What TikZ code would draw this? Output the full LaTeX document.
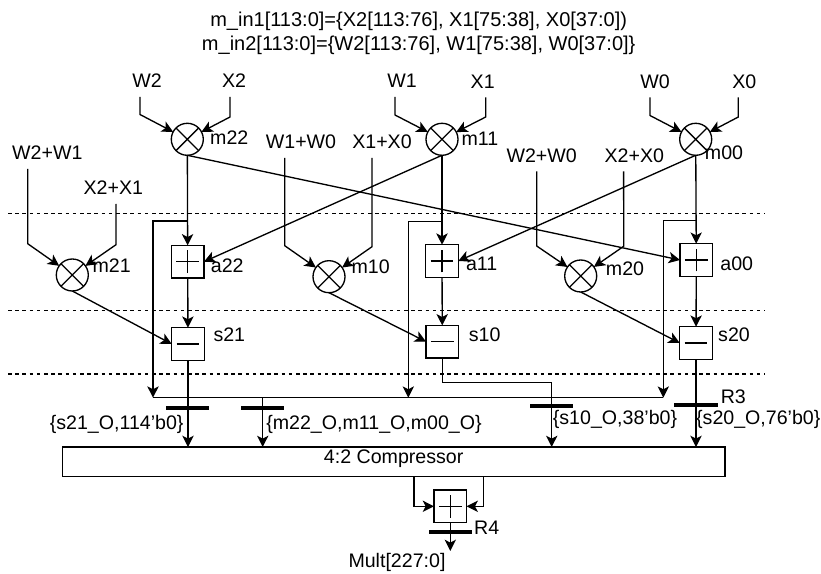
\documentclass[tikz,border=0pt]{standalone}
\usepackage{fontspec}
\setmainfont{Liberation Sans}
\usetikzlibrary{arrows.meta}
\tikzset{
  x=0.75pt,y=-0.75pt,
  every node/.style={inner sep=0pt,outer sep=0pt,font=\fontsize{14.7}{16}\selectfont},
  wire/.style={line width=1pt,line join=miter},
  arr/.style={wire,-{Stealth[length=8.5pt,width=8.5pt,inset=2.2pt]}},
  dashrow/.style={line width=1pt,dash pattern=on 2.7pt off 2.7pt},
  mulop/.style={draw,circle,line width=1pt,minimum size=24pt,
    path picture={\draw[line width=1pt] (path picture bounding box.south west)--(path picture bounding box.north east)
      (path picture bounding box.north west)--(path picture bounding box.south east);}},
  addop/.style={draw,line width=1pt,minimum size=24.4pt,
    path picture={\draw[line width=1pt] ([xshift=-8.5pt]path picture bounding box.center)--([xshift=8.5pt]path picture bounding box.center)
      ([yshift=-8.5pt]path picture bounding box.center)--([yshift=8.5pt]path picture bounding box.center);}},
  subop/.style={draw,line width=1pt,minimum size=24.4pt,
    path picture={\draw[line width=1pt] ([xshift=-8.5pt]path picture bounding box.center)--([xshift=8.5pt]path picture bounding box.center);}},
  regbar/.style={fill=black,minimum width=32.5pt,minimum height=3.2pt},
  inlabel/.style={minimum height=24pt},
  toptxt/.style={font=\fontsize{15}{17}\selectfont},
}
\begin{document}
\begin{tikzpicture}
\useasboundingbox (0,0) rectangle (821,574);
% titles
\node[toptxt] (title1) at (418.7,21.5) {m\_in1[113:0]=\{X2[113:76], X1[75:38], X0[37:0])};
\node[toptxt] (title2) at (418.7,45) {m\_in2[113:0]=\{W2[113:76], W1[75:38], W0[37:0]\}};
% pipeline separators
\coordinate (d1l) at (8,213.3); \coordinate (d1r) at (765,213.3);
\coordinate (d2l) at (8,310.3); \coordinate (d2r) at (765,310.3);
\coordinate (d3l) at (8,374);   \coordinate (d3r) at (765,374);
\draw[dashrow] (d1l)--(d1r);
\draw[dashrow] (d2l)--(d2r);
\draw[dashrow] (d3l)--(d3r);
% operators
\node[mulop] (m22) at (187.3,139.3) {};
\node[mulop] (m11) at (442,139.3) {};
\node[mulop] (m00) at (695.7,139.3) {};
\node[mulop] (m21) at (72.3,275) {};
\node[mulop] (m10) at (329,276.7) {};
\node[mulop] (m20) at (580.7,276) {};
\node[addop] (a22) at (187.7,261.7) {};
\node[addop] (a11) at (442,261) {};
\node[addop] (a00) at (696.3,260) {};
\node[subop] (s21) at (188,344) {};
\node[subop] (s10) at (442.3,341.7) {};
\node[subop] (s20) at (696,343) {};
\node[addop] (fa) at (450.3,506.3) {};
\node[draw,line width=1pt,minimum width=496.7pt,minimum height=22pt] (comp) at (393.7,461.7) {};
\node (complab) at (393.7,458.7) {4:2 Compressor};
% registers
\node[regbar] (rs21) at (187.7,407.7) {};
\node[regbar] (rm) at (262.7,407.7) {};
\node[regbar] (rs10) at (551.7,406) {};
\node[regbar] (r3) at (696,405) {};
\node[regbar] (r4) at (450.3,532.3) {};
% input labels
\node[inlabel] (lw2) at (147,81) {W2};
\node[inlabel] (lx2) at (234,81) {X2};
\node[inlabel] (lw1) at (402,81) {W1};
\node[inlabel] (lx1) at (482.7,81.5) {X1};
\node[inlabel] (lw0) at (655,81.5) {W0};
\node[inlabel] (lx0) at (744.3,81.5) {X0};
\node[inlabel] (lw21) at (47.3,153) {W2+W1};
\node[inlabel] (lx21) at (113.3,188) {X2+X1};
\node[inlabel] (lw10) at (301,142) {W1+W0};
\node[inlabel] (lx10) at (382,142) {X1+X0};
\node[inlabel] (lw20) at (541.7,155.5) {W2+W0};
\node[inlabel] (lx20) at (634.3,155.5) {X2+X0};
% operator labels
\node (tm22) at (229.3,137.7) {m22};
\node (tm11) at (480,139) {m11};
\node (tm00) at (724,152.7) {m00};
\node (tm21) at (111.7,265.7) {m21};
\node (ta22) at (227.3,265.7) {a22};
\node (tm10) at (370.7,266.7) {m10};
\node (ta11) at (481.7,264) {a11};
\node (tm20) at (625,269) {m20};
\node (ta00) at (736.7,263.3) {a00};
\node (ts21) at (229.3,335) {s21};
\node (ts10) at (484.7,335) {s10};
\node (ts20) at (734,335) {s20};
\node (tr3) at (733.3,396.7) {R3};
\node (tr4) at (486.7,527.3) {R4};
\node (bs21) at (116.7,424.8) {\{s21\_O,114'b0\}};
\node (bm) at (374,424.8) {\{m22\_O,m11\_O,m00\_O\}};
\node (bs10) at (615,419.5) {\{s10\_O,38'b0\}};
\node (bs20) at (758.3,419.5) {\{s20\_O,76'b0\}};
\node (mult) at (397,562) {Mult[227:0]};
% multiplier inputs
\draw[arr] ([xshift=-5.25pt]lw2.south) -- ++(0,17.5) -- (m22);
\draw[arr] ([xshift=-3pt]lx2.south) -- ++(0,20) -- (m22);
\draw[arr] ([xshift=-5.25pt]lw1.south) -- ++(0,18) -- (m11);
\draw[arr] ([xshift=2.25pt]lx1.south) -- ++(0,19.5) -- (m11);
\draw[arr] ([xshift=-3.75pt]lw0.south) -- ++(0,18) -- (m00);
\draw[arr] ([xshift=-4.5pt]lx0.south) -- ++(0,19.5) -- (m00);
\draw[arr] ([xshift=-14.7pt]lw21.south) -- (27.7,243.7) -- (m21);
\draw[arr] ([xshift=2pt]lx21.south) -- (116,244.7) -- (m21);
\draw[arr] ([xshift=-12.2pt]lw10.south) -- (284.7,245.7) -- (m10);
\draw[arr] ([xshift=-7.5pt]lx10.south) -- (372,246.7) -- (m10);
\draw[arr] ([xshift=-3.75pt]lw20.south) -- (536.7,246) -- (m20);
\draw[arr] ([xshift=-8pt]lx20.south) -- (623.7,246.3) -- (m20);
% multiplier to adder
\draw[arr] (m22) -- (a22);
\draw[arr] (m11) -- (a11);
\draw[arr] (m00) -- (a00);
\draw[arr] (m22.south) -- (a00.west);
\draw[arr] (m11.south) -- (a22.east);
\draw[arr] (m00.south) -- (a11.east);
% adder to subtractor
\draw[arr] (a22) -- (s21);
\draw[arr] (a11) -- (s10);
\draw[arr] (a00) -- (s20);
\draw[arr] (m21.south) -- (s21.west);
\draw[arr] (m10.south) -- (s10.west);
\draw[arr] (m20.south) -- (s20.west);
% bypass to the bus
\coordinate (t1) at (187.5,221); \coordinate (c1) at (153,221); \coordinate (e1) at (153,397.7);
\coordinate (t2) at (442,221.3); \coordinate (c2) at (408.3,221.3); \coordinate (e2) at (408.3,397.7);
\coordinate (t3) at (696,220.7); \coordinate (c3) at (663.3,220.7); \coordinate (e3) at (663.3,397.7);
\draw[arr] (t1) -- (c1) -- (e1);
\draw[arr] (t2) -- (c2) -- (e2);
\draw[arr] (t3) -- (c3) -- (e3);
\draw[wire] (e1) -- (e3);
% into the compressor
\draw[arr] (s21) -- (s21 |- comp.north);
\draw[arr] (rm |- e1) -- (rm |- comp.north);
\coordinate (k1) at (442.3,382.7);
\coordinate (k2) at (551.7,382.7);
\draw[arr] (s10) -- (k1) -- (k2) -- (k2 |- comp.north);
\draw[arr] (s20) -- (s20 |- comp.north);
% final adder
\coordinate (o1) at (414,476.4); \coordinate (o2) at (483.3,476.4);
\draw[arr] (o1) -- (o1 |- fa) -- (fa.west);
\draw[arr] (o2) -- (o2 |- fa) -- (fa.east);
\coordinate (out) at (450.3,551);
\draw[arr] (fa) -- (out);
\end{tikzpicture}
\end{document}
